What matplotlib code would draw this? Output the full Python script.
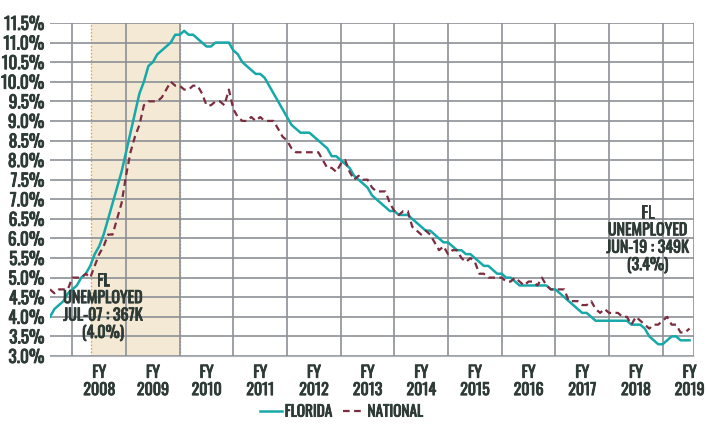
import matplotlib
matplotlib.use('Agg')
import matplotlib.pyplot as plt
import matplotlib.patheffects as pe
import numpy as np

# monthly unemployment rate, Jul-2007 .. Jun-2019 (FY 2008 .. FY 2019)
florida = [
    4.0, 4.2, 4.3, 4.4, 4.6, 4.7, 4.8, 5.0, 5.1, 5.3, 5.6, 5.8,
    6.1, 6.5, 6.9, 7.3, 7.7, 8.2, 8.7, 9.2, 9.7, 10.0, 10.4, 10.5,
    10.7, 10.8, 10.9, 11.0, 11.2, 11.2, 11.3, 11.2, 11.2, 11.1, 11.0, 10.9,
    10.9, 11.0, 11.0, 11.0, 11.0, 10.8, 10.7, 10.5, 10.4, 10.3, 10.2, 10.2,
    10.1, 9.9, 9.7, 9.5, 9.3, 9.1, 8.9, 8.8, 8.7, 8.7, 8.7, 8.6,
    8.5, 8.4, 8.3, 8.1, 8.1, 8.0, 7.9, 7.8, 7.6, 7.5, 7.4, 7.3,
    7.1, 7.0, 6.9, 6.8, 6.7, 6.7, 6.6, 6.6, 6.6, 6.5, 6.4, 6.3,
    6.2, 6.2, 6.1, 6.0, 5.9, 5.9, 5.8, 5.7, 5.7, 5.6, 5.6, 5.5,
    5.4, 5.3, 5.3, 5.2, 5.1, 5.1, 5.0, 5.0, 4.9, 4.8, 4.8, 4.8,
    4.8, 4.8, 4.8, 4.8, 4.7, 4.7, 4.6, 4.5, 4.4, 4.3, 4.2, 4.1,
    4.1, 4.0, 3.9, 3.9, 3.9, 3.9, 3.9, 3.9, 3.9, 3.9, 3.8, 3.8,
    3.8, 3.7, 3.5, 3.4, 3.3, 3.3, 3.4, 3.5, 3.5, 3.4, 3.4, 3.4,
]
national = [
    4.7, 4.6, 4.7, 4.7, 4.7, 5.0, 5.0, 5.0, 5.1, 5.0, 5.3, 5.6,
    5.8, 6.1, 6.1, 6.5, 6.9, 7.6, 8.2, 8.6, 8.9, 9.4, 9.5, 9.5,
    9.5, 9.6, 9.8, 10.0, 9.9, 9.9, 9.8, 9.8, 9.9, 9.9, 9.7, 9.4,
    9.4, 9.5, 9.5, 9.4, 9.8, 9.3, 9.1, 9.0, 9.0, 9.1, 9.0, 9.1,
    9.0, 9.0, 9.0, 8.8, 8.6, 8.5, 8.3, 8.2, 8.2, 8.2, 8.2, 8.2,
    8.2, 8.0, 7.8, 7.8, 7.7, 7.9, 8.0, 7.7, 7.5, 7.6, 7.5, 7.5,
    7.3, 7.2, 7.2, 7.2, 6.9, 6.7, 6.6, 6.7, 6.7, 6.3, 6.2, 6.1,
    6.2, 6.1, 5.9, 5.7, 5.8, 5.6, 5.7, 5.7, 5.5, 5.4, 5.5, 5.4,
    5.1, 5.1, 5.0, 5.0, 5.0, 5.0, 4.9, 4.9, 5.0, 4.9, 4.8, 4.9,
    4.9, 4.8, 5.0, 4.8, 4.7, 4.7, 4.7, 4.7, 4.4, 4.4, 4.4, 4.3,
    4.3, 4.4, 4.2, 4.1, 4.2, 4.1, 4.1, 4.1, 4.0, 4.0, 3.8, 4.0,
    3.9, 3.8, 3.7, 3.8, 3.8, 3.9, 4.0, 3.8, 3.8, 3.6, 3.6, 3.7,
]
fiscal_years = [str(y) for y in range(2008, 2020)]
y_ticks = np.arange(3.0, 11.51, 0.5)
shade_start, shade_end = 9.1, 29.0   # month index of shaded band

text_col = '#2e3a35'
grid_col = '#8c9096'
fl_col = '#17a8aa'
nat_col = '#7b2d3f'
plt.rcParams['font.family'] = ['Oswald', 'Antonio', 'DejaVu Sans']
plt.rcParams['font.weight'] = 'bold'
# the condensed face renders light, so thicken strokes a little
heavy = [pe.withStroke(linewidth=0.6, foreground=text_col)]

months = np.arange(len(florida))

fig = plt.figure(figsize=(7.06, 4.24), dpi=100)
ax = fig.add_axes([0.0708, 0.1604, 0.9122, 0.7854])

# shaded band with dotted edges
ax.axvspan(shade_start, shade_end, color='#f3e9d4', zorder=0, lw=0)
for xv in (shade_start, shade_end):
    ax.axvline(xv, color='#d8a640', ls=(0, (1, 1.5)), lw=1.0, zorder=1)

# grid
for yv in y_ticks:
    ax.axhline(yv, color=grid_col, lw=1.2, zorder=1)
for xv in range(5, 144, 12):
    ax.axvline(xv, color=grid_col, lw=1.2, zorder=1)
ax.axvline(144, color=grid_col, lw=1.2, zorder=1)

ax.plot(months, florida, color=fl_col, lw=1.8, label='FLORIDA', zorder=3)
ax.plot(months, national, color=nat_col, lw=1.6, ls=(0, (3, 2)), label='NATIONAL', zorder=3)

ax.set_xlim(0, 144)
ax.set_ylim(3.0, 11.5)
ax.set_yticks(y_ticks)
ax.set_yticklabels(['%.1f%%' % v for v in y_ticks])
ax.set_xticks(np.arange(11, 144, 12))
ax.set_xticklabels(['FY\n' + fy for fy in fiscal_years], linespacing=1.2)
ax.tick_params(axis='both', length=0, colors=text_col)
ax.tick_params(axis='y', labelsize=12.5, pad=4)
ax.tick_params(axis='x', labelsize=11.5, pad=7)
for lab in ax.get_xticklabels() + ax.get_yticklabels():
    lab.set_path_effects(heavy)
for s in ['top', 'right', 'left']:
    ax.spines[s].set_visible(False)
ax.spines['bottom'].set_color('#b0b3b8')
ax.spines['bottom'].set_linestyle((0, (1, 1)))

ax.text(11.8, 4.24, 'FL\nUNEMPLOYED\nJUL-07 : 367K\n(4.0%)', ha='center', va='center',
        fontsize=11.5, color=text_col, linespacing=1.2, zorder=4, path_effects=heavy)
ax.text(133.6, 5.97, 'FL\nUNEMPLOYED\nJUN-19 : 349K\n(3.4%)', ha='center', va='center',
        fontsize=11.5, color=text_col, linespacing=1.2, zorder=4, path_effects=heavy)

leg = fig.legend(loc='center', bbox_to_anchor=(0.484, 0.028), ncol=2, frameon=False,
                 fontsize=11, handlelength=1.4, columnspacing=0.7, handletextpad=0.2)
for t in leg.get_texts():
    t.set_color(text_col)
    t.set_path_effects(heavy)

fig.savefig('out.png', dpi=100)
plt.close(fig)
